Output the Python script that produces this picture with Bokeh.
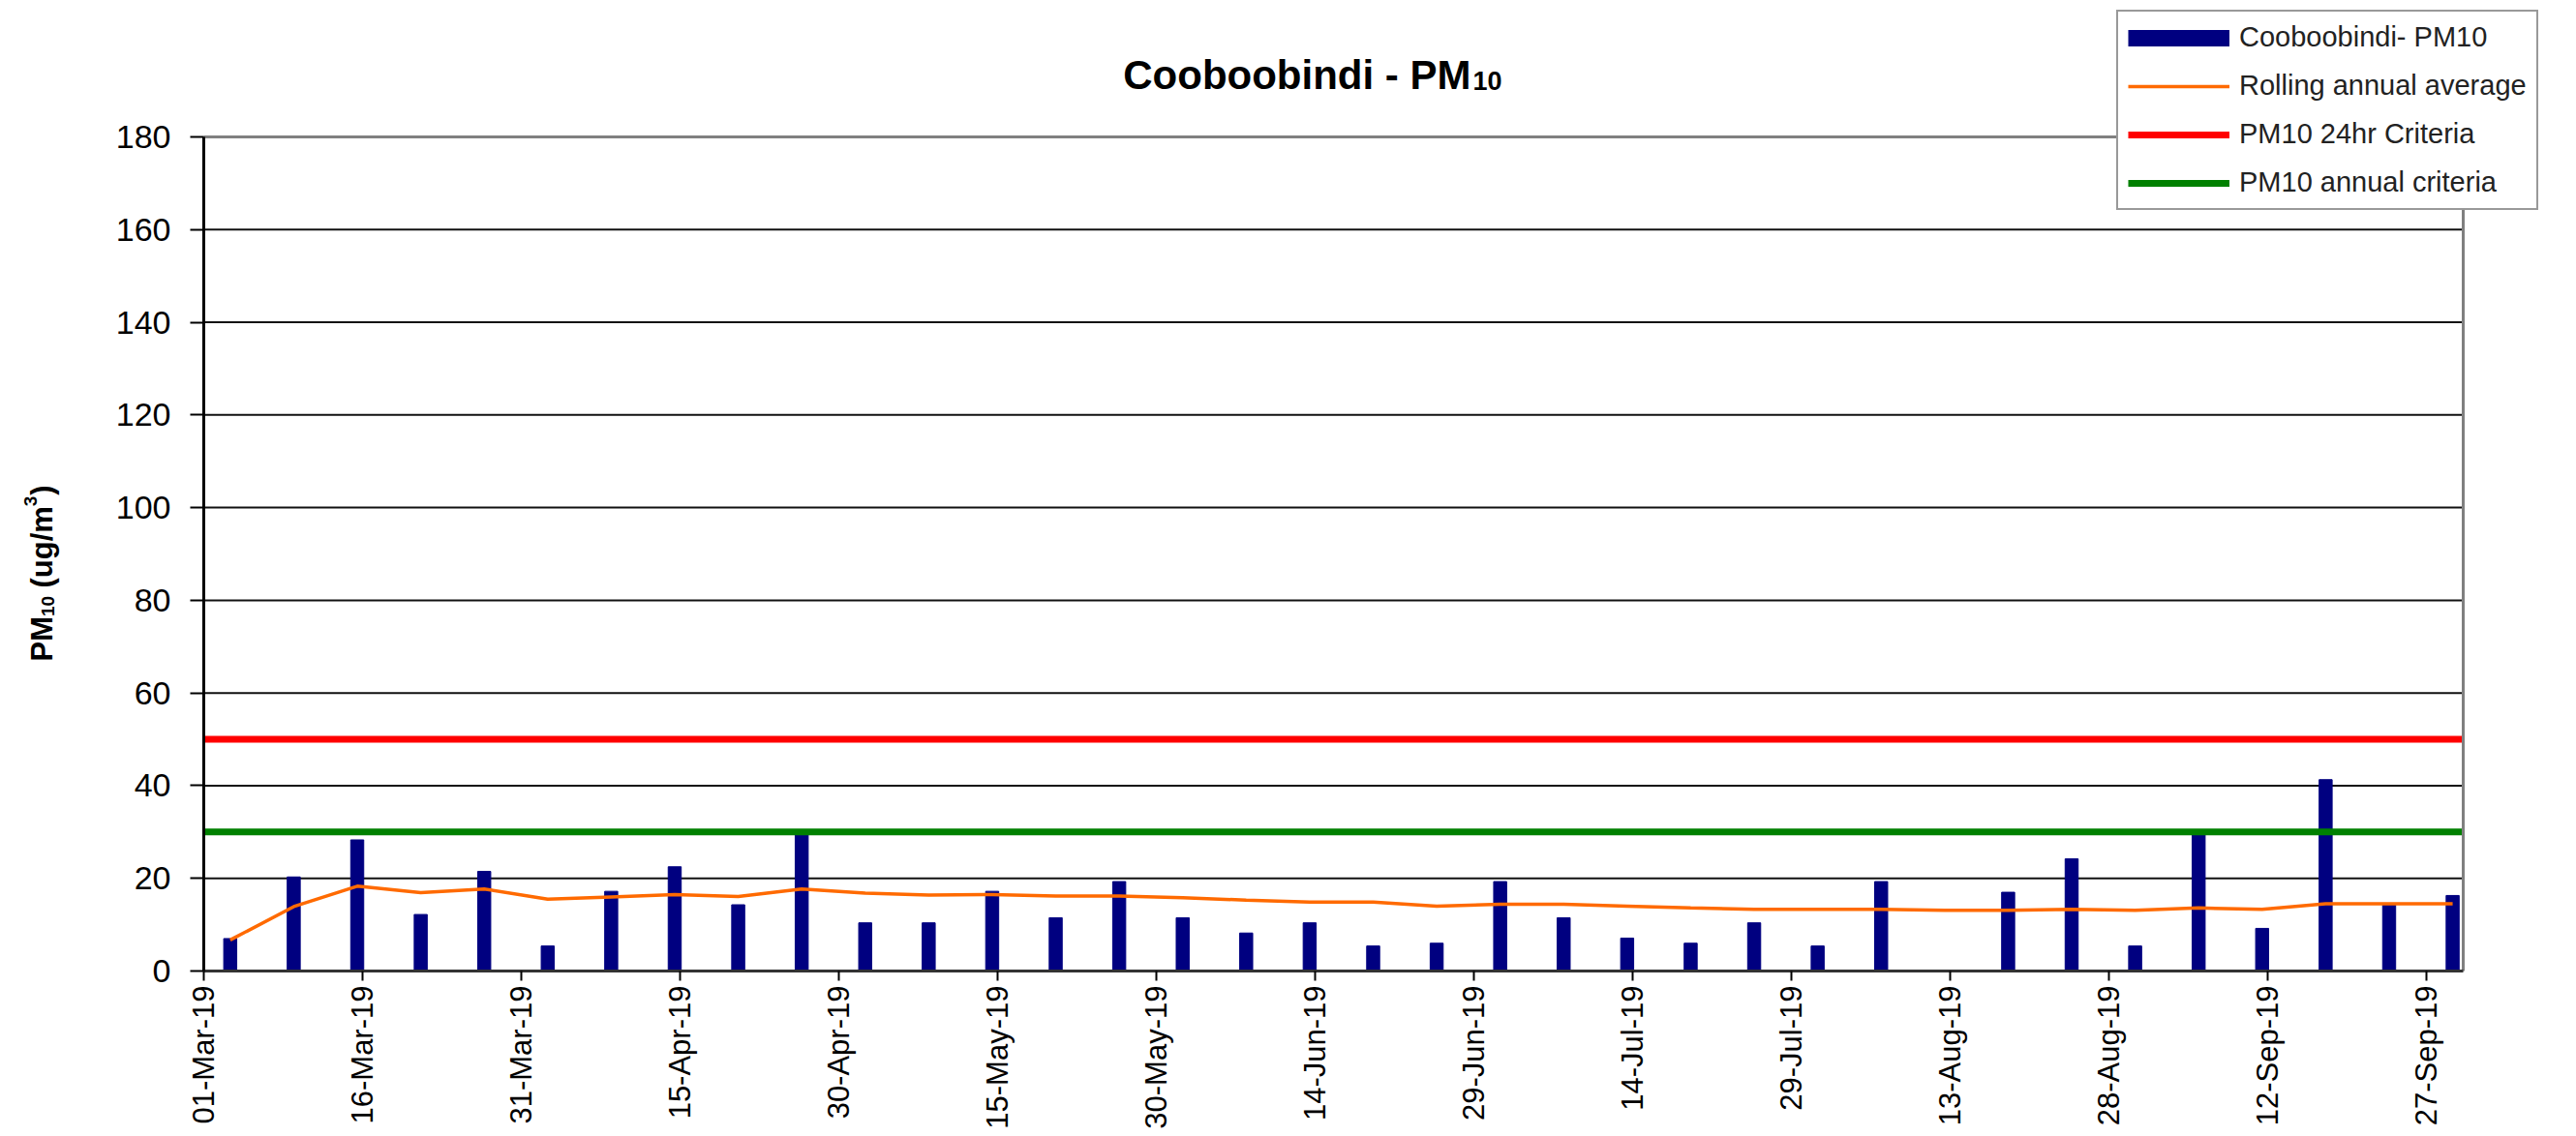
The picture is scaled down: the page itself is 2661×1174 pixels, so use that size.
import numpy as np
import pandas as pd
from bokeh.plotting import figure
from bokeh.models import (FixedTicker, DatetimeTickFormatter, Legend, LegendItem,
                          Label, Range1d, ColumnDataSource)
from bokeh.embed import file_html
from bokeh.resources import INLINE

# ---------------- data ----------------
sample_dates = ["03-Mar-19", "09-Mar-19", "15-Mar-19", "21-Mar-19", "27-Mar-19",
                "02-Apr-19", "08-Apr-19", "14-Apr-19", "20-Apr-19", "26-Apr-19",
                "02-May-19", "08-May-19", "14-May-19", "20-May-19", "26-May-19",
                "01-Jun-19", "07-Jun-19", "13-Jun-19", "19-Jun-19", "25-Jun-19",
                "01-Jul-19", "07-Jul-19", "13-Jul-19", "19-Jul-19", "25-Jul-19",
                "31-Jul-19", "06-Aug-19", "12-Aug-19", "18-Aug-19", "24-Aug-19",
                "30-Aug-19", "05-Sep-19", "11-Sep-19", "17-Sep-19", "23-Sep-19",
                "29-Sep-19"]
pm10_values = [7.0, 20.3, 28.3, 12.2, 21.5,
               5.4, 17.2, 22.5, 14.3, 29.8,
               10.4, 10.4, 17.2, 11.5, 19.3,
               11.5, 8.2, 10.4, 5.4, 6.0,
               19.3, 11.5, 7.1, 6.0, 10.4,
               5.4, 19.3, None, 17.0, 24.2,
               5.4, 29.7, 9.2, 41.3, 14.5,
               16.3]
rolling_avg = [6.7, 13.9, 18.3, 16.9, 17.7,
               15.5, 16.0, 16.5, 16.1, 17.7,
               16.8, 16.4, 16.5, 16.2, 16.2,
               15.8, 15.3, 14.9, 14.9, 14.0,
               14.4, 14.4, 14.0, 13.6, 13.3,
               13.3, 13.3, 13.1, 13.1, 13.3,
               13.1, 13.6, 13.3, 14.5, 14.5,
               14.5]
criteria_24hr = 50
criteria_annual = 30
tick_labels = ["01-Mar-19", "16-Mar-19", "31-Mar-19", "15-Apr-19", "30-Apr-19",
               "15-May-19", "30-May-19", "14-Jun-19", "29-Jun-19", "14-Jul-19",
               "29-Jul-19", "13-Aug-19", "28-Aug-19", "12-Sep-19", "27-Sep-19"]
axis_end = "30-Sep-19 12:00"
y_ticks = [0, 20, 40, 60, 80, 100, 120, 140, 160, 180]
series_names = ["Cooboobindi- PM10", "Rolling annual average",
                "PM10 24hr Criteria", "PM10 annual criteria"]

# ---------------- helpers ----------------
def to_ms(ts):
    return pd.Timestamp(ts).timestamp() * 1000.0

DAY = 86400000.0
dates = pd.to_datetime(sample_dates, format="%d-%b-%y")
x_ms = [to_ms(d) + DAY / 2 for d in dates]
tick_ms = [to_ms(t) for t in pd.to_datetime(tick_labels, format="%d-%b-%y")]
x_start = tick_ms[0]
x_end = to_ms(pd.to_datetime(axis_end, format="%d-%b-%y %H:%M"))
y_lo_plot, y_hi_plot = y_ticks[0], y_ticks[-1]

vals = np.array([np.nan if v is None else v for v in pm10_values], dtype=float)
mask = ~np.isnan(vals)
bar_src = ColumnDataSource(dict(x=list(np.array(x_ms)[mask]), top=list(vals[mask])))
roll_src = ColumnDataSource(dict(x=x_ms, y=rolling_avg))

# ---------------- layout (pixels on the canvas) ----------------
W, H = 2661, 1174
PL, PR, PT, PB = 210, 2544, 141, 1003      # plot-area box inside the canvas
ms_per_px = (x_end - x_start) / (PR - PL)
u_per_px = (y_hi_plot - y_lo_plot) / (PB - PT)
xr = Range1d(x_start - PL * ms_per_px, x_end + (W - PR) * ms_per_px)
yr = Range1d(y_lo_plot - (H - PB) * u_per_px, y_hi_plot + PT * u_per_px)

FONT = "Liberation Sans"

p = figure(width=W, height=H, x_axis_type="datetime", x_range=xr, y_range=yr,
           output_backend="svg", toolbar_location=None, title=None,
           min_border=0, min_border_left=0, min_border_right=0,
           min_border_top=0, min_border_bottom=0)
p.background_fill_color = "white"
p.border_fill_color = "white"
p.outline_line_color = None
p.xgrid.grid_line_color = None
p.ygrid.grid_line_color = None

# axes drawn at fixed data positions (plot-area edges)
p.yaxis.fixed_location = x_start
p.yaxis.bounds = (y_lo_plot, y_hi_plot)
p.yaxis.ticker = FixedTicker(ticks=y_ticks)
p.yaxis.axis_line_color = "black"
p.yaxis.axis_line_width = 3
p.yaxis.major_tick_out = 14
p.yaxis.major_tick_in = 0
p.yaxis.major_tick_line_width = 2
p.yaxis.major_tick_line_color = "black"
p.yaxis.minor_tick_line_color = None
p.yaxis.major_label_standoff = 20
p.yaxis.major_label_text_font = FONT
p.yaxis.major_label_text_font_size = "34px"
p.yaxis.major_label_text_color = "black"

p.xaxis.fixed_location = y_lo_plot
p.xaxis.bounds = (x_start, x_end)
p.xaxis.ticker = FixedTicker(ticks=tick_ms)
fmt = "%d-%b-%y"
p.xaxis.formatter = DatetimeTickFormatter(
    microseconds=fmt, milliseconds=fmt, seconds=fmt, minsec=fmt, minutes=fmt,
    hourmin=fmt, hours=fmt, days=fmt, months=fmt, years=fmt)
p.xaxis.major_label_orientation = np.pi / 2
p.xaxis.axis_line_color = "#333333"
p.xaxis.axis_line_width = 3
p.xaxis.major_tick_out = 10
p.xaxis.major_tick_in = 0
p.xaxis.major_tick_line_width = 2
p.xaxis.major_tick_line_color = "black"
p.xaxis.minor_tick_line_color = None
p.xaxis.major_label_standoff = 5
p.xaxis.major_label_text_font = FONT
p.xaxis.major_label_text_font_size = "31px"
p.xaxis.major_label_text_color = "black"

# horizontal gridlines limited to the plot area
p.segment(x0=x_start, x1=x_end, y0=y_ticks[1:-1], y1=y_ticks[1:-1],
          line_color="#111111", line_width=2)

# glyphs
NAVY = "#000080"
p.vbar(x="x", top="top", bottom=0, width=1.23 * DAY, source=bar_src,
       fill_color=NAVY, line_color=NAVY)
r_roll = p.line(x="x", y="y", source=roll_src, line_color="#FF6A00", line_width=3.5)
r_24 = p.line(x=[x_start, x_end], y=[criteria_24hr, criteria_24hr],
              line_color="#FF0000", line_width=7)
r_ann = p.line(x=[x_start, x_end], y=[criteria_annual, criteria_annual],
               line_color="#008000", line_width=7)

# plot-area border (top and right, grey)
p.line(x=[x_start, x_end, x_end], y=[y_hi_plot, y_hi_plot, y_lo_plot],
       line_color="#808080", line_width=3)

# legend swatch for the bar series (thick bar); one NaN point so nothing is drawn
r_bar_key = p.line(x=[np.nan], y=[np.nan], line_color=NAVY, line_width=17,
                   line_cap="butt")

legend = Legend(items=[LegendItem(label=series_names[0], renderers=[r_bar_key]),
                       LegendItem(label=series_names[1], renderers=[r_roll]),
                       LegendItem(label=series_names[2], renderers=[r_24]),
                       LegendItem(label=series_names[3], renderers=[r_ann])],
                location=(2186, H - 217))
legend.label_text_font = FONT
legend.label_text_font_size = "29px"
legend.label_text_color = "#222222"
legend.glyph_width = 105
legend.glyph_height = 28
legend.label_height = 28
legend.spacing = 17
legend.padding = 10
legend.margin = 0
legend.label_standoff = 10
legend.border_line_color = "#333333"
legend.border_line_width = 2
legend.background_fill_color = "white"
legend.background_fill_alpha = 1.0
p.add_layout(legend)

# title: "Cooboobindi - PM" with subscript "10"
p.add_layout(Label(x=x_start, y=y_hi_plot, x_offset=1309, y_offset=64,
                   text="Cooboobindi - PM", text_align="right",
                   text_baseline="alphabetic", text_font=FONT,
                   text_font_size="42px", text_font_style="bold",
                   text_color="black"))
p.add_layout(Label(x=x_start, y=y_hi_plot, x_offset=1311, y_offset=58,
                   text="10", text_align="left", text_baseline="alphabetic",
                   text_font=FONT, text_font_size="27px",
                   text_font_style="bold", text_color="black"))

# y axis label: PM10 (ug/m3) with sub/superscript, rotated
# (text, font px, baseline shift px, advance in em incl. following gap)
pieces = [("PM", 31, 0, 1.5),
          ("10", 19, 6, 1.112 + 0.44),
          ("(ug/m", 31, 0, 2.72),
          ("3", 19, -12, 0.6),
          (")", 31, 0, 0.333)]
pos = 320.0
for txt, size, shift, em in pieces:
    p.add_layout(Label(x=x_start, y=y_lo_plot, x_offset=-167 + shift, y_offset=pos,
                       text=txt, angle=np.pi / 2, text_align="left",
                       text_baseline="alphabetic", text_font=FONT,
                       text_font_size=f"{size}px", text_font_style="bold",
                       text_color="black"))
    pos += em * size

open("out.html", "w").write(file_html(p, INLINE))
